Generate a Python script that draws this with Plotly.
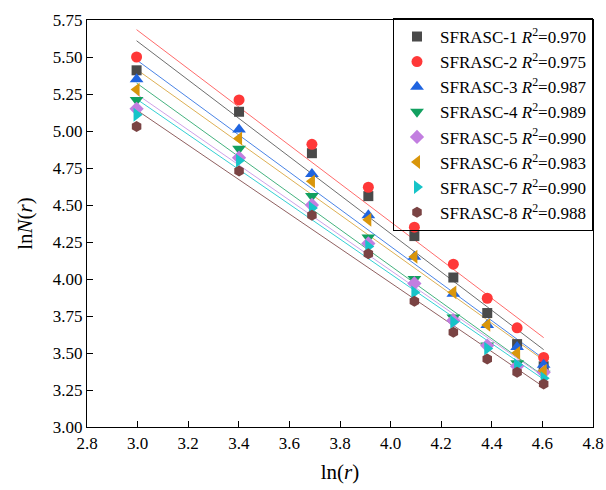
import numpy as np
import plotly.graph_objects as go

# ln(r) values (r = 20..100)
ln_r = [2.996, 3.401, 3.689, 3.912, 4.094, 4.248, 4.382, 4.500, 4.605]

names = ['SFRASC-1', 'SFRASC-2', 'SFRASC-3', 'SFRASC-4',
         'SFRASC-5', 'SFRASC-6', 'SFRASC-7', 'SFRASC-8']
r2_values = ['0.970', '0.975', '0.987', '0.989', '0.990', '0.983', '0.990', '0.988']

s1 = [5.41, 5.13, 4.85, 4.56, 4.29, 4.01, 3.77, 3.56, 3.41]
s2 = [5.50, 5.21, 4.91, 4.62, 4.35, 4.10, 3.87, 3.67, 3.47]
s3 = [5.35, 5.01, 4.71, 4.43, 4.15, 3.90, 3.69, 3.54, 3.42]
s4 = [5.21, 4.88, 4.56, 4.28, 4.00, 3.74, 3.55, 3.43, 3.36]
s5 = [5.15, 4.82, 4.50, 4.24, 3.97, 3.72, 3.55, 3.41, 3.37]
s6 = [5.28, 4.95, 4.66, 4.40, 4.15, 3.91, 3.69, 3.50, 3.38]
s7 = [5.11, 4.80, 4.48, 4.22, 3.91, 3.71, 3.53, 3.42, 3.33]
s8 = [5.03, 4.73, 4.43, 4.17, 3.85, 3.64, 3.46, 3.37, 3.29]
series = [s1, s2, s3, s4, s5, s6, s7, s8]

colors = ['#4a4a4a', '#ff3838', '#1f64e0', '#12a060',
          '#c27ee0', '#d9960b', '#16c4c8', '#7a4343']
line_colors = ['#6e6e6e', '#ff6b6b', '#4a84e6', '#45b27f',
               '#cfa0e8', '#ddb055', '#35d0d3', '#8f6060']
symbols = ['square', 'circle', 'triangle-up', 'triangle-down',
           'diamond', 'triangle-left', 'triangle-right', 'hexagon']
sizes = [10, 11, 12, 12, 11, 12, 12, 11]

font = 'Liberation Serif'

fig = go.Figure()

# linear fits
x_arr = np.array(ln_r)
for ys, lc in zip(series, line_colors):
    k, b = np.polyfit(x_arr, np.array(ys), 1)
    xs = [x_arr.min(), x_arr.max()]
    fig.add_trace(go.Scatter(
        x=xs, y=[k * xs[0] + b, k * xs[1] + b],
        mode='lines', line=dict(color=lc, width=1),
        showlegend=False, hoverinfo='skip'
    ))

# data points
for name, r2, ys, c, sym, sz in zip(names, r2_values, series, colors, symbols, sizes):
    fig.add_trace(go.Scatter(
        x=ln_r, y=ys, mode='markers',
        name=f'{name} <i>R</i><sup>2</sup>=' + r2,
        marker=dict(color=c, symbol=sym, size=sz, line=dict(width=0))
    ))

axis_style = dict(
    showline=True, linecolor='black', linewidth=1.3, mirror=True,
    ticks='inside', ticklen=6, tickcolor='black', tickwidth=1.3,
    showgrid=False, zeroline=False,
    tickfont=dict(family=font, size=17, color='black'),
)

fig.update_layout(
    width=606, height=490,
    margin=dict(l=87, r=13, t=20, b=63, autoexpand=False),
    plot_bgcolor='white', paper_bgcolor='white',
    font=dict(family=font, color='black'),
    xaxis=dict(range=[2.8, 4.8], dtick=0.2, tickformat='.1f',
               title=dict(text='ln(<i>r</i>)', font=dict(family=font, size=21), standoff=12),
               **axis_style),
    yaxis=dict(range=[3.0, 5.75], dtick=0.25, tickformat='.2f',
               title=dict(text='ln<i>N</i>(<i>r</i>)', font=dict(family=font, size=21), standoff=14),
               **axis_style),
    legend=dict(x=1, y=1.005, xanchor='right', yanchor='top',
                bordercolor='black', borderwidth=1, bgcolor='rgba(255,255,255,0)',
                font=dict(family=font, size=17, color='black'),
                tracegroupgap=0, itemwidth=36),
)

# drop the default page margin so the figure fills the window exactly
fig.write_html("out.html", config={'displayModeBar': False},
               post_script="document.body.style.margin='0';")
